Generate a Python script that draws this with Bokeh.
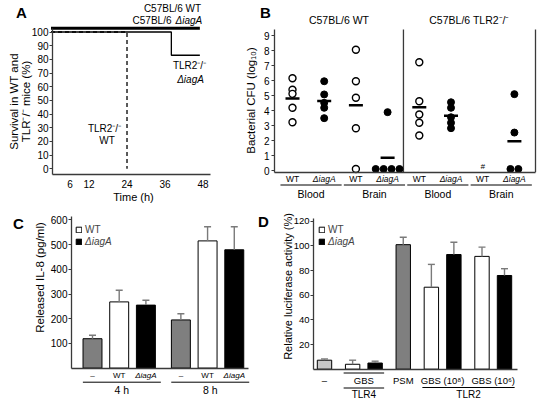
import math
import numpy as np
from bokeh.plotting import figure
from bokeh.layouts import row, column
from bokeh.models import (Range1d, LinearAxis, FixedTicker, Label, Whisker, TeeHead,
                          Legend, LegendItem, ColumnDataSource)
from bokeh.transform import dodge
from bokeh.embed import file_html
from bokeh.resources import INLINE

FONT = "Liberation Sans"
AX = "#3a3a3a"
ERR = "#7a7a7a"

# ---------------- data ----------------
# A: survival (%) over time (h)
a_time_c57 = [0, 47]
a_surv_c57 = [100, 100]
a_time_tlr2_iaga = [0, 38, 38, 47]
a_surv_tlr2_iaga = [100, 100, 83, 83]
a_time_tlr2_wt = [0, 24, 24]
a_surv_tlr2_wt = [100, 100, 0]
a_xticks = [6, 12, 24, 36, 48]
a_yticks = [0, 10, 20, 30, 40, 50, 60, 70, 80, 90, 100]

# B: bacterial CFU (log10) per mouse
b_mouse = ["C57BL/6 WT", "C57BL/6 TLR2⁻/⁻"]
b_site = ["Blood", "Brain"]
b_strain = ["WT", "ΔiagA"]
b_c57_blood_wt = [6.15, 5.38, 5.11, 4.18, 3.22]
b_c57_blood_iaga = [5.95, 5.07, 4.51, 4.18, 3.49]
b_c57_brain_wt = [8.05, 5.95, 4.85, 2.82, 0.1]
b_c57_brain_iaga = [3.89, 0.1, 0.1, 0.1, 0.1]
b_tlr2_blood_wt = [7.22, 4.62, 3.73, 3.18, 2.33]
b_tlr2_blood_iaga = [4.55, 4.18, 3.55, 3.18, 2.82]
b_tlr2_brain_wt = []          # none detected (#)
b_tlr2_brain_iaga = [5.09, 2.53, 0.1, 0.1]
b_yticks = [0, 1, 2, 3, 4, 5, 6, 7, 8, 9]

# C: released IL-8 (pg/ml)
c_time = ["4 h", "8 h"]
c_treat = ["–", "WT", "ΔiagA"]
c_il8_4h = [119, 268, 255]
c_err_4h = [14, 47, 20]
c_il8_8h = [195, 515, 479]
c_err_8h = [25, 57, 93]
c_yticks = [100, 200, 300, 400, 500, 600]

# D: relative luciferase activity (%)
d_labels = ["–", "GBS", "PSM", "GBS (10⁸)", "GBS (10⁶)"]
d_receptor = ["TLR4", "TLR2"]
d_ctrl = [7.3]
d_ctrl_err = [1.0]
d_tlr4_gbs = [4.0, 5.0]
d_tlr4_gbs_err = [3.3, 1.5]
d_psm = [101.0]
d_psm_err = [6.0]
d_gbs8 = [66.5, 93.0]
d_gbs8_err = [18.5, 10.0]
d_gbs6 = [91.5, 76.0]
d_gbs6_err = [7.5, 5.5]
d_yticks = [20, 40, 60, 80, 100, 120]


# ---------------- helpers ----------------
class Cal:
    """linear map from canvas pixels to data units for one panel"""
    def __init__(self, px_ref, x_ref, sx, py_ref, sy):
        self.px_ref, self.x_ref, self.sx = px_ref, x_ref, sx
        self.py_ref, self.sy = py_ref, sy

    def x(self, px):
        return self.x_ref + (px - self.px_ref) / self.sx

    def y(self, py):
        return (self.py_ref - py) / self.sy


def make_fig(cal, origin, size):
    ox, oy = origin
    w, h = size
    p = figure(width=w, height=h, title=None, toolbar_location=None, output_backend="svg",
               x_range=Range1d(cal.x(ox), cal.x(ox + w)), y_range=Range1d(cal.y(oy + h), cal.y(oy)),
               x_axis_type=None, y_axis_type=None,
               min_border_left=0, min_border_right=0, min_border_top=0, min_border_bottom=0)
    p.outline_line_color = None
    p.background_fill_color = "white"
    p.border_fill_color = "white"
    return p


def style_axis(ax, size="10px"):
    ax.axis_line_color = AX
    ax.axis_line_width = 1.3
    ax.major_tick_line_color = AX
    ax.major_tick_line_width = 1.2
    ax.minor_tick_line_color = None
    ax.major_tick_in = 0
    ax.major_label_text_font = FONT
    ax.major_label_text_font_size = size
    ax.major_label_text_color = "black"


def label(p, x, y, text, size="10px", style="normal", angle=0.0, align="center", baseline="middle"):
    p.add_layout(Label(x=x, y=y, text=text, text_font=FONT, text_font_size=size,
                       text_font_style=style, angle=angle, text_align=align,
                       text_baseline=baseline, text_color="black"))


def spread(vals, step):
    offs = []
    for i, v in enumerate(vals):
        same = [j for j, w in enumerate(vals) if w == v]
        n = len(same)
        offs.append((same.index(i) - (n - 1) / 2.0) * step)
    return offs


# ---------------- panel A ----------------
ca = Cal(50.5, 0.0, 3.167, 168.3, 1.368)
pa = make_fig(ca, (0, 0), (215, 205))
ya_base = ca.y(173.5)

ya = LinearAxis(ticker=FixedTicker(ticks=a_yticks), fixed_location=ca.x(52), bounds=(ya_base, 102.5))
style_axis(ya)
ya.major_tick_out = 3
ya.major_label_standoff = 1
pa.add_layout(ya, "left")
xa = LinearAxis(ticker=FixedTicker(ticks=a_xticks), fixed_location=ya_base, bounds=(ca.x(52), ca.x(210)))
style_axis(xa)
xa.major_tick_out = 0
xa.major_label_standoff = 6
pa.add_layout(xa, "below")

pa.line(a_time_tlr2_wt, a_surv_tlr2_wt, line_color="black", line_width=1.3, line_dash="4 3")
pa.line(a_time_tlr2_iaga, a_surv_tlr2_iaga, line_color="black", line_width=1.3)
src_c57 = ColumnDataSource(dict(t=a_time_c57, s=a_surv_c57))
pa.line(x="t", y=dodge("s", 2.8, range=pa.y_range), source=src_c57, line_color="black", line_width=3)

label(pa, ca.x(172), ca.y(8), b_mouse[0])
label(pa, ca.x(171), ca.y(19.5), "C57BL/6", align="right")
label(pa, ca.x(175), ca.y(19.5), b_strain[1], style="italic", align="left")
label(pa, ca.x(189), ca.y(65), "TLR2⁻/⁻")
label(pa, ca.x(190), ca.y(78.5), b_strain[1], style="italic")
label(pa, ca.x(104), ca.y(127.7), "TLR2⁻/⁻")
label(pa, ca.x(106.5), ca.y(140), b_strain[0])
label(pa, ca.x(133), ca.y(196), "Time (h)", size="11px")
label(pa, ca.x(13.5), ca.y(101), "Survival in WT and", size="11.5px", angle=math.pi / 2)
label(pa, ca.x(25.5), ca.y(101), "TLR⁻/⁻ mice (%)", size="11.5px", angle=math.pi / 2)
label(pa, ca.x(21), ca.y(12), "A", size="15px", style="bold")

# ---------------- panel B ----------------
cb = Cal(292, 1.0, 31.7, 170.0, 15.0)
pb = make_fig(cb, (215, 0), (325, 205))
yb_base = cb.y(171.7)
yb_top = cb.y(29)

yb = LinearAxis(ticker=FixedTicker(ticks=b_yticks), fixed_location=cb.x(274), bounds=(yb_base, yb_top))
style_axis(yb)
yb.major_tick_out = 3
yb.major_label_standoff = 2
pb.add_layout(yb, "left")
xb = LinearAxis(ticker=FixedTicker(ticks=[]), fixed_location=yb_base, bounds=(cb.x(274), cb.x(535)))
style_axis(xb)
xb.major_tick_out = 0
pb.add_layout(xb, "below")

x_div = 4.5
x_right = cb.x(535)
pb.segment(x0=[x_div, x_right], y0=[yb_base, yb_base], x1=[x_div, x_right], y1=[yb_top, yb_top],
           line_color=AX, line_width=1.3)

b_cols = [b_c57_blood_wt, b_c57_blood_iaga, b_c57_brain_wt, b_c57_brain_iaga,
          b_tlr2_blood_wt, b_tlr2_blood_iaga, b_tlr2_brain_wt, b_tlr2_brain_iaga]
for i, vals in enumerate(b_cols):
    pos = i + 1
    strain = b_strain[i % 2]
    if vals:
        xs = [pos + o for o in spread(vals, 0.25)]
        if strain == "WT":
            pb.scatter(xs, vals, marker="circle", size=7, fill_color="white",
                       line_color="black", line_width=1.4)
        else:
            pb.scatter(xs, vals, marker="circle", size=7, fill_color="black",
                       line_color="black", line_width=1)
        pb.scatter([pos], [float(np.mean(vals))], marker="dash", size=14,
                   line_color="black", line_width=2.5)
    else:
        label(pb, pos, cb.y(165.5), "#", size="8px", style="italic")
    label(pb, pos, cb.y(178), strain, size="8.5px",
          style="italic" if strain != "WT" else "normal")

for g in range(4):
    x0 = 2 * g + 1 - 0.38
    x1 = 2 * g + 2 + 0.55
    pb.segment(x0=[x0], y0=[cb.y(184.5)], x1=[x1], y1=[cb.y(184.5)],
               line_color="black", line_width=1)
    label(pb, (x0 + x1) / 2.0, cb.y(193.5), b_site[g % 2], size="10.5px")

label(pb, (cb.x(274) + x_div) / 2.0, cb.y(19), b_mouse[0], size="10.5px")
label(pb, (x_div + cb.x(535)) / 2.0, cb.y(19), b_mouse[1], size="10.5px")
label(pb, cb.x(250), cb.y(100), "Bacterial CFU (log₁₀)", size="11.5px", angle=math.pi / 2)
label(pb, cb.x(265), cb.y(12), "B", size="15px", style="bold")

# ---------------- panel C ----------------
cc = Cal(92, 1.0, 26.7, 367.6, 0.247)
pc = make_fig(cc, (0, 205), (250, 200))

yc = LinearAxis(ticker=FixedTicker(ticks=c_yticks), fixed_location=cc.x(71), bounds=(0, cc.y(216)))
style_axis(yc, "10px")
yc.major_tick_out = 3
yc.major_label_standoff = 1
pc.add_layout(yc, "left")
xc = LinearAxis(ticker=FixedTicker(ticks=[]), fixed_location=0, bounds=(cc.x(71), cc.x(248)))
style_axis(xc)
xc.major_tick_out = 0
pc.add_layout(xc, "below")

c_vals = [c_il8_4h, c_il8_8h]
c_errs = [c_err_4h, c_err_8h]
c_fill = ["#7f7f7f", "white", "black"]
c_rend = {}
wx, wl, wu = [], [], []
for t in range(3):
    xs = [1 + g * 3.31 + t for g in range(2)]
    tops = [c_vals[g][t] for g in range(2)]
    r = pc.vbar(x=xs, top=tops, bottom=0, width=0.71, fill_color=c_fill[t],
                line_color="black", line_width=1)
    c_rend[c_treat[t]] = r
    for g in range(2):
        wx.append(xs[g])
        wl.append(c_vals[g][t])
        wu.append(c_vals[g][t] + c_errs[g][t])
        label(pc, xs[g], cc.y(374.5), c_treat[t], size="8px",
              style="italic" if t == 2 else "normal")
wsrc = ColumnDataSource(dict(x=wx, lower=wl, upper=wu))
pc.add_layout(Whisker(base="x", lower="lower", upper="upper", source=wsrc, dimension="height",
                      line_color=ERR, line_width=1.4, level="annotation",
                      upper_head=TeeHead(size=7, line_color=ERR, line_width=1.4),
                      lower_head=None))
for g in range(2):
    x0 = 1 + g * 3.31 - 0.36
    x1 = 1 + g * 3.31 + 2 + 0.56
    pc.segment(x0=[x0], y0=[cc.y(381.7)], x1=[min(x1, cc.x(249))], y1=[cc.y(381.7)],
               line_color="black", line_width=1)
    label(pc, (x0 + x1) / 2.0, cc.y(389.5), c_time[g], size="10.5px")

for name, vy, style in [("WT", 170, "normal"), ("ΔiagA", 158.5, "italic")]:
    leg = Legend(items=[LegendItem(label=name, renderers=[c_rend[name]])], location=(75, vy),
                 label_text_font=FONT, label_text_font_size="10px", label_text_font_style=style,
                 glyph_width=7, glyph_height=7, label_height=10, label_standoff=3,
                 padding=0, margin=0, spacing=0, border_line_color=None,
                 background_fill_alpha=0)
    pc.add_layout(leg)

label(pc, cc.x(39), cc.y(277), "Released IL-8 (pg/ml)", size="11.5px", angle=math.pi / 2)
label(pc, cc.x(18), cc.y(223), "C", size="15px", style="bold")

# ---------------- panel D ----------------
cd = Cal(324, 1.0, 22.5, 368.7, 1.233)
pd_ = make_fig(cd, (250, 205), (290, 200))

# bar positions from group structure
d_groups = [[d_ctrl, d_ctrl_err], [d_tlr4_gbs, d_tlr4_gbs_err], [d_psm, d_psm_err],
            [d_gbs8, d_gbs8_err], [d_gbs6, d_gbs6_err]]
pos = 1.0
d_pos, d_centers = [], []
for gi, (vals, errs) in enumerate(d_groups):
    if gi > 0:
        pos += 1.25
    ps = [pos + k for k in range(len(vals))]
    pos = ps[-1]
    d_pos.append(ps)
    d_centers.append(float(np.mean(ps)))

yd = LinearAxis(ticker=FixedTicker(ticks=d_yticks), fixed_location=cd.x(313), bounds=(0, cd.y(218)))
style_axis(yd, "9.5px")
yd.major_tick_out = 3
yd.major_label_standoff = 1
pd_.add_layout(yd, "left")
xd = LinearAxis(ticker=FixedTicker(ticks=d_centers), fixed_location=0,
                bounds=(cd.x(313), cd.x(516.7)),
                major_label_overrides={c: l for c, l in zip(d_centers, d_labels)})
style_axis(xd, "9.5px")
xd.major_tick_out = 0
xd.major_label_standoff = 6
pd_.add_layout(xd, "below")

W = 0.64
pd_.vbar(x=d_pos[0], top=d_ctrl, width=W, fill_color="#c8c8c8", line_color="black", line_width=1)
pd_.vbar(x=d_pos[2], top=d_psm, width=W, fill_color="#7f7f7f", line_color="black", line_width=1)
r_wt = pd_.vbar(x=[d_pos[1][0], d_pos[3][0], d_pos[4][0]],
                top=[d_tlr4_gbs[0], d_gbs8[0], d_gbs6[0]], width=W,
                fill_color="white", line_color="black", line_width=1)
r_ia = pd_.vbar(x=[d_pos[1][1], d_pos[3][1], d_pos[4][1]],
                top=[d_tlr4_gbs[1], d_gbs8[1], d_gbs6[1]], width=W,
                fill_color="black", line_color="black", line_width=1)
wx, wl, wu = [], [], []
for ps, (vals, errs) in zip(d_pos, d_groups):
    for x_, v, e in zip(ps, vals, errs):
        wx.append(x_)
        wl.append(v)
        wu.append(v + e)
wsrc_d = ColumnDataSource(dict(x=wx, lower=wl, upper=wu))
pd_.add_layout(Whisker(base="x", lower="lower", upper="upper", source=wsrc_d, dimension="height",
                       line_color=ERR, line_width=1.4, level="annotation",
                       upper_head=TeeHead(size=7, line_color=ERR, line_width=1.4),
                       lower_head=None))

# TLR4 / TLR2 group marks
t4_x0, t4_x1 = d_pos[1][0] - 0.4, d_pos[1][-1] + 0.4
t2_x0, t2_x1 = d_pos[3][0] - 0.4, d_pos[4][-1] + 0.45
pd_.segment(x0=[t4_x0, t4_x0, t2_x0], y0=[cd.y(372.5), cd.y(387.5), cd.y(387)],
            x1=[t4_x1, t4_x1, t2_x1], y1=[cd.y(372.5), cd.y(387.5), cd.y(387)],
            line_color="black", line_width=1)
label(pd_, (t4_x0 + t4_x1) / 2.0, cd.y(394), d_receptor[0], size="10px")
label(pd_, (t2_x0 + t2_x1) / 2.0, cd.y(394), d_receptor[1], size="10px")

for name, rr, vy, style in [("WT", r_wt, 170, "normal"), ("ΔiagA", r_ia, 158.5, "italic")]:
    leg = Legend(items=[LegendItem(label=name, renderers=[rr])], location=(68, vy),
                 label_text_font=FONT, label_text_font_size="10px", label_text_font_style=style,
                 glyph_width=7, glyph_height=7, label_height=10, label_standoff=3,
                 padding=0, margin=0, spacing=0, border_line_color=None,
                 background_fill_alpha=0)
    pd_.add_layout(leg)

label(pd_, cd.x(287), cd.y(286), "Relative luciferase activity (%)", size="11px", angle=math.pi / 2)
label(pd_, cd.x(263), cd.y(221), "D", size="15px", style="bold")

layout = column(row(pa, pb), row(pc, pd_))
open("out.html", "w").write(file_html(layout, INLINE))
